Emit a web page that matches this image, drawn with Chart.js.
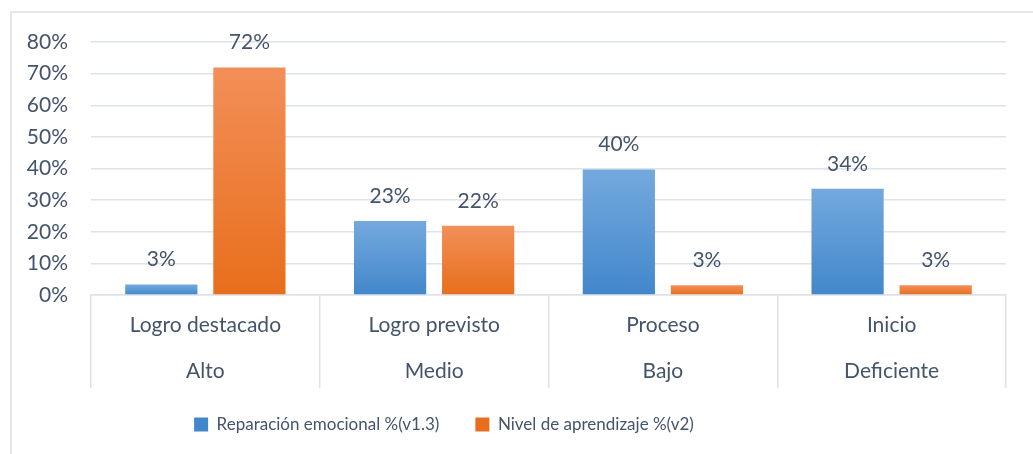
<!DOCTYPE html>
<html>
<head>
<meta charset="utf-8">
<script src="https://cdn.jsdelivr.net/npm/chart.js@4.4.1/dist/chart.umd.min.js"></script>
<style>
  html, body { margin: 0; padding: 0; background: #fff; }
  #wrap { position: relative; width: 1033px; height: 454px; overflow: hidden; }
  #frame { position: absolute; left: 10px; top: 11px; width: 1040px; height: 460px;
           border-left: 2px solid #e4e7eb; border-top: 2px solid #e4e7eb; }
  canvas { position: absolute; left: 0; top: 0; }
</style>
</head>
<body>
<div id="wrap">
  <div id="frame"></div>
  <canvas id="chart" width="1033" height="454"></canvas>
</div>
<script>
// Category labels (two levels) and series values
const levels = ['Logro destacado', 'Logro previsto', 'Proceso', 'Inicio'];
const grades = ['Alto', 'Medio', 'Bajo', 'Deficiente'];
const seriesNames = ['Reparación emocional %(v1.3)', 'Nivel de aprendizaje %(v2)'];
const reparacion = [3.3, 23.4, 39.7, 33.6];
const aprendizaje = [71.9, 21.9, 3.1, 3.1];
const yTicks = [0, 10, 20, 30, 40, 50, 60, 70, 80];

const textColor = '#44546A';
const gridColor = '#dfe2e7';
const fontFamily = 'Lato, "Open Sans", sans-serif';
const fontSize = 21;

// gradient from the top of each bar down to the base
function barFill(top, bottom, mid) {
  return (ctx) => {
    const chart = ctx.chart;
    if (ctx.type !== 'data' || !chart.chartArea) return mid;
    const y = chart.scales.y;
    const g = chart.ctx.createLinearGradient(0, y.getPixelForValue(ctx.raw), 0, y.getPixelForValue(0));
    g.addColorStop(0, top);
    g.addColorStop(1, bottom);
    return g;
  };
}

// value labels above the bars
const barLabels = {
  id: 'barLabels',
  afterDatasetsDraw(chart) {
    const c = chart.ctx;
    c.save();
    c.font = fontSize + 'px ' + fontFamily;
    c.fillStyle = textColor;
    c.textAlign = 'center';
    c.textBaseline = 'middle';
    chart.data.datasets.forEach((ds, i) => {
      chart.getDatasetMeta(i).data.forEach((bar, j) => {
        c.fillText(Math.round(ds.data[j]) + '%', bar.x, bar.y - 25);
      });
    });
    c.restore();
  }
};

// the legend in the original sits left of centre and a bit higher
const legendShift = {
  id: 'legendShift',
  afterLayout(chart) {
    const lg = chart.legend;
    lg.left -= 59;
    lg.right -= 59;
    lg.top -= 11;
    lg.bottom -= 11;
  }
};

new Chart(document.getElementById('chart'), {
  type: 'bar',
  data: {
    labels: levels.map((l, i) => [l, grades[i]]),
    datasets: [
      {
        label: seriesNames[0],
        data: reparacion,
        backgroundColor: barFill('#74a9dd', '#4287cb', '#5b9bd5'),
        categoryPercentage: 0.77,
        barPercentage: 0.82
      },
      {
        label: seriesNames[1],
        data: aprendizaje,
        backgroundColor: barFill('#f28f58', '#e86e1c', '#ed7d31'),
        categoryPercentage: 0.77,
        barPercentage: 0.82
      }
    ]
  },
  options: {
    responsive: false,
    animation: false,
    layout: { padding: { top: 42, right: 27, left: 0, bottom: 0 } },
    scales: {
      y: {
        min: 0,
        max: 80,
        afterBuildTicks: (s) => { s.ticks = yTicks.map(v => ({ value: v })); },
        afterFit: (s) => { s.width = 91; },
        grid: { color: gridColor, lineWidth: 1.5, drawTicks: false },
        border: { display: false },
        ticks: {
          padding: 23,
          color: textColor,
          font: { family: fontFamily, size: fontSize },
          callback: (v) => v + '%'
        }
      },
      x: {
        afterFit: (s) => { s.height = 96; },
        grid: { offset: true, drawOnChartArea: false, tickLength: 93, color: gridColor, lineWidth: 1.5 },
        border: { color: gridColor, width: 1.5 },
        ticks: {
          padding: -86,
          color: textColor,
          font: { family: fontFamily, size: fontSize, lineHeight: '46px' }
        }
      }
    },
    plugins: {
      legend: {
        position: 'bottom',
        labels: {
          boxWidth: 14,
          boxHeight: 14,
          padding: 36,
          color: textColor,
          font: { family: fontFamily, size: 17 }
        }
      },
      tooltip: { enabled: false }
    }
  },
  plugins: [barLabels, legendShift]
});
</script>
</body>
</html>
